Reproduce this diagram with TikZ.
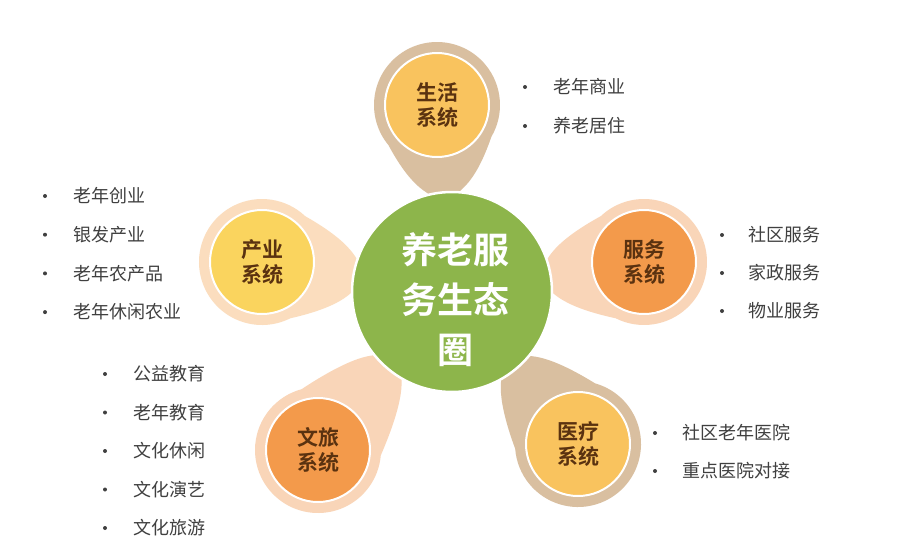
\documentclass[tikz,border=0pt]{standalone}
\usepackage{fontspec}
\setmainfont{Noto Sans CJK SC}
\newfontfamily\cjkb{Noto Sans CJK SC Bold}
\definecolor{tanhalo}{HTML}{D9BFA0}
\definecolor{peachhalo}{HTML}{F9D5B8}
\definecolor{lighthalo}{HTML}{FBDDBE}
\definecolor{ycore}{HTML}{F9C35E}
\definecolor{ocore}{HTML}{F39A4B}
\definecolor{lycore}{HTML}{FAD45E}
\definecolor{gcore}{HTML}{8DB54B}
\definecolor{brownt}{HTML}{5A3210}
\definecolor{grayt}{HTML}{404040}
\tikzset{
  sattext/.style={font=\cjkb\fontsize{21}{25}\selectfont, text=brownt, align=center},
  item/.style={font=\fontsize{18}{20}\selectfont, text=grayt, anchor=west},
  dotmark/.style={circle, fill=grayt, inner sep=0pt, minimum size=4pt},
}
% #1 x,#2 y,#3 halo colour,#4 core colour,#5 name
\newcommand{\satl}[5]{%
  \pgfmathsetmacro{\ang}{atan2(290-(#2),452-(#1))}%
  \pgfmathsetmacro{\dd}{veclen(452-(#1),290-(#2))}%
  \begin{scope}[shift={(#1,#2)}, rotate=-\ang]
    \fill[#3] (55:63) arc[start angle=55,end angle=305,radius=63]
      .. controls ({\dd-100},-30) and ({\dd-100},-14) .. ({\dd-95},-14)
      -- ({\dd-95},14)
      .. controls ({\dd-100},14) and ({\dd-100},30) .. (55:63) -- cycle;
  \end{scope}
  \node[circle, fill=#4, draw=white, line width=2pt, minimum size=104pt] (#5) at (#1,#2) {};
}
\begin{document}
\begin{tikzpicture}[x=1pt,y=-1pt]
\useasboundingbox (0,0) rectangle (900,557);
\fill[white] (0,0) rectangle (900,557);
\satl{437}{105}{tanhalo}{ycore}{s1}
\satl{644}{262}{peachhalo}{ocore}{s2}
\satl{578}{444}{tanhalo}{ycore}{s3}
\satl{318}{450}{peachhalo}{ocore}{s4}
\satl{262}{262}{lighthalo}{lycore}{s5}
\node[circle, fill=gcore, draw=white, line width=2.5pt, minimum size=200pt] (c) at (452,292) {};
\node[font=\cjkb\fontsize{36}{50}\selectfont, text=white, align=center] at (455,300) {养老服\\务生态\\圈};
\node[sattext] at (s1) {生活\\系统};
\node[sattext] at (s2) {服务\\系统};
\node[sattext] at (s3) {医疗\\系统};
\node[sattext] at (s4) {文旅\\系统};
\node[sattext] at (s5) {产业\\系统};
\foreach \t [count=\i] in {老年商业,养老居住}{
  \node[dotmark] at (525,{87+(\i-1)*39}) {};
  \node[item] at (550,{87+(\i-1)*39}) {\t};}
\foreach \t [count=\i] in {老年创业,银发产业,老年农产品,老年休闲农业}{
  \node[dotmark] at (45,{196+(\i-1)*38.7}) {};
  \node[item] at (70,{196+(\i-1)*38.7}) {\t};}
\foreach \t [count=\i] in {社区服务,家政服务,物业服务}{
  \node[dotmark] at (722,{235+(\i-1)*38}) {};
  \node[item] at (745,{235+(\i-1)*38}) {\t};}
\foreach \t [count=\i] in {公益教育,老年教育,文化休闲,文化演艺,文化旅游}{
  \node[dotmark] at (105,{374+(\i-1)*38.5}) {};
  \node[item] at (130,{374+(\i-1)*38.5}) {\t};}
\foreach \t [count=\i] in {社区老年医院,重点医院对接}{
  \node[dotmark] at (655,{433+(\i-1)*38}) {};
  \node[item] at (679,{433+(\i-1)*38}) {\t};}
\end{tikzpicture}
\end{document}
